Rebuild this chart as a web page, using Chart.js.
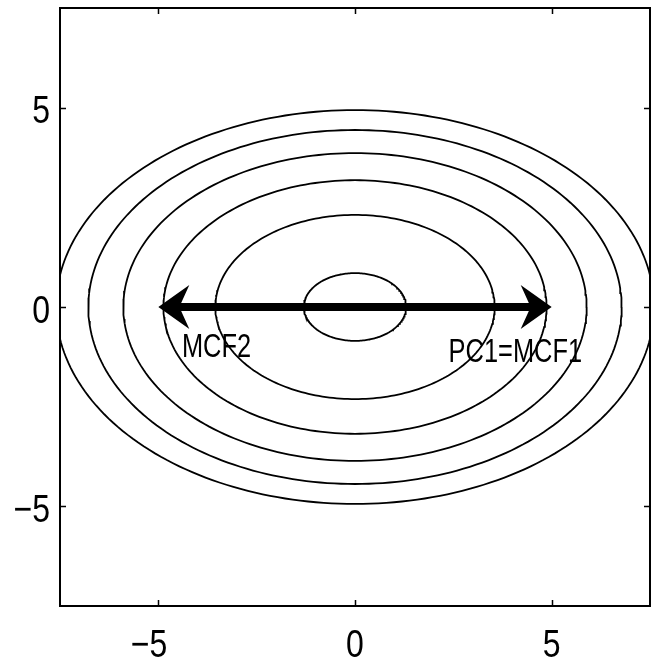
<!DOCTYPE html>
<html>
<head>
<meta charset="utf-8">
<script src="https://cdn.jsdelivr.net/npm/chart.js@4.4.1/dist/chart.umd.min.js"></script>
<style>
  html, body { margin: 0; padding: 0; background: #fff; }
  #wrap { width: 653px; height: 663px; }
</style>
</head>
<body>
<div id="wrap"><canvas id="c" width="653" height="663"></canvas></div>
<script>
// ---- data ----
const xTickValues = [-5, 0, 5];
const yTickValues = [-5, 0, 5];
const axisMin = -7.5;
const axisMax = 7.5;
// contour ellipses (centered at origin): semi-axis along x and along y
const ellipseSemiX = [1.3, 3.55, 4.87, 5.89, 6.78, 7.6];
const ellipseSemiY = [0.85, 2.31, 3.18, 3.86, 4.44, 4.94];
// double-headed arrow
const arrowX = [-5, 5];
const arrowY = [0, 0];
// annotations
const labelTexts = ['MCF2', 'PC1=MCF1'];
const labelX = [-4.4, 2.38];
const labelY = [-1.25, -1.38];

const FONT = '"Liberation Sans", Arial, sans-serif';
const NARROW = 0.82;   // horizontal squeeze to mimic Helvetica Narrow

function ellipsePoints(a, b) {
  const pts = [];
  const n = 240;
  for (let i = 0; i <= n; i++) {
    const t = (i / n) * 2 * Math.PI;
    pts.push({ x: a * Math.cos(t), y: b * Math.sin(t) });
  }
  return pts;
}

const datasets = ellipseSemiX.map((a, i) => ({
  label: 'contour ' + (i + 1),
  data: ellipsePoints(a, ellipseSemiY[i]),
  showLine: true,
  borderColor: '#000',
  borderWidth: 1.8,
  pointRadius: 0,
  tension: 0,
  fill: false
}));
const ARROW_INDEX = datasets.length;
datasets.push({
  label: 'arrow',
  data: arrowX.map((x, i) => ({ x: x, y: arrowY[i] })),
  showLine: false,
  borderColor: '#000',
  backgroundColor: '#000',
  pointRadius: 0,
  fill: false
});

const tickLabel = v => (v < 0 ? '\u2212' + Math.abs(v) : String(v));

function squeezedText(ctx, text, x, y, sx) {
  ctx.save();
  ctx.translate(x, y);
  ctx.scale(sx, 1);
  ctx.fillText(text, 0, 0);
  ctx.restore();
}

const decoPlugin = {
  id: 'deco',
  afterDatasetsDraw(chart) {
    const ctx = chart.ctx;
    const xs = chart.scales.x, ys = chart.scales.y;
    ctx.save();
    // double-headed arrow from the arrow dataset's points
    const pts = chart.getDatasetMeta(ARROW_INDEX).data;
    const p0 = pts[0], p1 = pts[1];
    const L = 31, W = 22, N = 21;
    ctx.fillStyle = '#000';
    ctx.fillRect(p0.x + N - 1, p0.y - 4, (p1.x - N + 1) - (p0.x + N - 1), 8);
    [[p0, -1], [p1, 1]].forEach(([p, dir]) => {
      ctx.beginPath();
      ctx.moveTo(p.x, p.y);
      ctx.lineTo(p.x - dir * L, p.y - W);
      ctx.lineTo(p.x - dir * N, p.y);
      ctx.lineTo(p.x - dir * L, p.y + W);
      ctx.closePath();
      ctx.fill();
    });
    // text labels
    ctx.font = '33px ' + FONT;
    ctx.textAlign = 'left';
    ctx.textBaseline = 'alphabetic';
    labelTexts.forEach((t, i) => {
      squeezedText(ctx, t, xs.getPixelForValue(labelX[i]), ys.getPixelForValue(labelY[i]), 0.77);
    });
    ctx.restore();
  },
  afterDraw(chart) {
    const ctx = chart.ctx;
    const xs = chart.scales.x, ys = chart.scales.y;
    const a = chart.chartArea;
    ctx.save();
    ctx.strokeStyle = '#000';
    ctx.lineWidth = 1.5;
    const tl = 6;
    ctx.beginPath();
    xs.ticks.forEach(t => {
      const px = Math.round(xs.getPixelForValue(t.value)) + 0.5;
      ctx.moveTo(px, a.bottom); ctx.lineTo(px, a.bottom - tl);
      ctx.moveTo(px, a.top); ctx.lineTo(px, a.top + tl);
    });
    ys.ticks.forEach(t => {
      const py = Math.round(ys.getPixelForValue(t.value)) + 0.5;
      ctx.moveTo(a.left, py); ctx.lineTo(a.left + tl, py);
      ctx.moveTo(a.right, py); ctx.lineTo(a.right - tl, py);
    });
    ctx.stroke();
    ctx.lineWidth = 2;
    ctx.strokeRect(a.left, a.top, a.right - a.left, a.bottom - a.top);

    // tick labels (narrow Helvetica look)
    ctx.fillStyle = '#000';
    ctx.font = '39px ' + FONT;
    const digitW = t => ctx.measureText(t).width * NARROW;
    ctx.textBaseline = 'alphabetic';
    ctx.textAlign = 'left';
    // x axis: digits centred on the tick, minus hanging to the left
    xs.ticks.forEach(t => {
      const px = xs.getPixelForValue(t.value);
      const digits = String(Math.abs(t.value));
      const dw = digitW(digits);
      const full = tickLabel(t.value);
      const fw = digitW(full);
      squeezedText(ctx, full, px + dw / 2 - fw, a.bottom + 51, NARROW);
    });
    // y axis: right aligned
    ys.ticks.forEach(t => {
      const py = ys.getPixelForValue(t.value);
      const full = tickLabel(t.value);
      const fw = digitW(full);
      squeezedText(ctx, full, a.left - 10 - fw, py + 15.5, NARROW);
    });
    ctx.restore();
  }
};

new Chart(document.getElementById('c'), {
  type: 'scatter',
  data: { datasets: datasets },
  options: {
    responsive: false,
    animation: false,
    devicePixelRatio: 1,
    layout: { padding: { top: 8, right: 3, left: 0, bottom: 0 } },
    plugins: { legend: { display: false }, tooltip: { enabled: false } },
    scales: {
      x: {
        type: 'linear', min: axisMin, max: axisMax,
        afterBuildTicks: s => { s.ticks = xTickValues.map(v => ({ value: v })); },
        afterFit: s => { s.height = 57; s.paddingLeft = 0; s.paddingRight = 0; },
        grid: { display: false, drawTicks: false },
        border: { display: false },
        ticks: { display: false, callback: v => tickLabel(v) }
      },
      y: {
        type: 'linear', min: axisMin, max: axisMax,
        afterBuildTicks: s => { s.ticks = yTickValues.map(v => ({ value: v })); },
        afterFit: s => { s.width = 60; s.paddingTop = 0; s.paddingBottom = 0; },
        grid: { display: false, drawTicks: false },
        border: { display: false },
        ticks: { display: false, callback: v => tickLabel(v) }
      }
    }
  },
  plugins: [decoPlugin]
});
</script>
</body>
</html>
